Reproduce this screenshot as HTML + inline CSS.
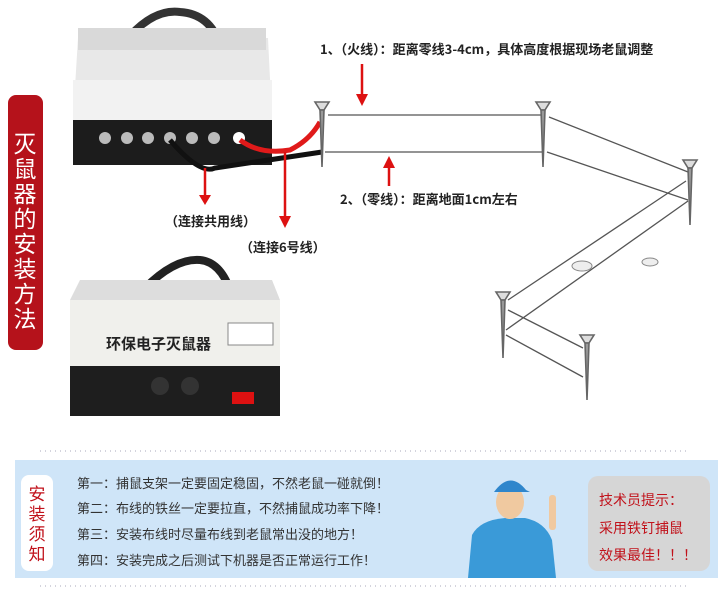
<!DOCTYPE html>
<html><head><meta charset="utf-8"><style>
body{margin:0;width:728px;height:598px;background:#fff;overflow:hidden;font-family:"Liberation Sans","Noto Sans CJK SC",sans-serif}
</style></head><body>
<svg width="728" height="598" xmlns="http://www.w3.org/2000/svg" style="position:absolute;left:0;top:0">
<rect x="8" y="95" width="35" height="255" rx="8" fill="#b5121b"/>
<text font-family="Noto Sans CJK SC,sans-serif" font-size="23" fill="#fff" text-anchor="middle">
<tspan x="25" y="152">灭</tspan><tspan x="25" y="177">鼠</tspan><tspan x="25" y="202">器</tspan><tspan x="25" y="227">的</tspan><tspan x="25" y="252">安</tspan><tspan x="25" y="277">装</tspan><tspan x="25" y="302">方</tspan><tspan x="25" y="327">法</tspan></text>
<!-- top device -->
<path d="M120 48 Q150 8 180 12 Q210 14 220 45" stroke="#333" stroke-width="8" fill="none"/>
<path d="M78 38 L268 38 L272 120 L73 120 Z" fill="#e8e8e8"/>
<rect x="78" y="28" width="188" height="22" fill="#d9d9d9"/>
<rect x="73" y="80" width="199" height="42" fill="#f2f2f2"/>
<rect x="73" y="120" width="199" height="45" fill="#1c1c1c"/>
<g fill="#bbb"><circle cx="105" cy="138" r="6"/><circle cx="127" cy="138" r="6"/><circle cx="148" cy="138" r="6"/><circle cx="170" cy="138" r="6"/><circle cx="192" cy="138" r="6"/><circle cx="214" cy="138" r="6"/><circle cx="239" cy="138" r="6" fill="#fff"/></g>
<path d="M240 140 Q260 155 290 150 Q310 140 320 122" stroke="#e01a1a" stroke-width="5" fill="none"/>
<path d="M170 140 Q200 175 215 168 Q270 160 322 152" stroke="#111" stroke-width="5" fill="none"/>
<path d="M205 168 L205 200" stroke="#d11" stroke-width="2.5"/><path d="M199 195 L205 205 L211 195Z" fill="#d11"/>
<path d="M285 152 L285 222" stroke="#d11" stroke-width="2.5"/><path d="M279 216 L285 228 L291 216Z" fill="#d11"/>
<text x="165" y="226" font-size="13" font-weight="bold" fill="#222" font-family="Noto Sans CJK SC,sans-serif">（连接共用线）</text>
<text x="240" y="252" font-size="13" font-weight="bold" fill="#222" font-family="Noto Sans CJK SC,sans-serif">（连接6号线）</text>
<!-- bottom device -->
<path d="M145 288 Q175 258 200 260 Q220 262 230 290" stroke="#222" stroke-width="8" fill="none"/>
<path d="M80 280 L272 280 L280 300 L70 300 Z" fill="#ddd"/>
<rect x="70" y="300" width="210" height="66" fill="#f0f0ec"/>
<text x="106" y="349" font-size="15" font-weight="bold" fill="#222" font-family="Noto Sans CJK SC,sans-serif">环保电子灭鼠器</text>
<rect x="228" y="323" width="45" height="22" fill="#fff" stroke="#888"/>
<rect x="70" y="366" width="210" height="50" fill="#1e1e1e"/>
<circle cx="160" cy="386" r="9" fill="#333"/><circle cx="190" cy="386" r="9" fill="#333"/>
<rect x="232" y="392" width="22" height="12" fill="#d11"/>
<!-- fence -->
<g stroke="#555" stroke-width="1.3" fill="none">
<line x1="328" y1="115" x2="543" y2="115"/><line x1="325" y1="152" x2="543" y2="152"/>
<line x1="549" y1="117" x2="688" y2="172"/><line x1="547" y1="152" x2="688" y2="200"/>
<line x1="686" y1="181" x2="508" y2="300"/><line x1="688" y1="201" x2="506" y2="330"/>
<line x1="508" y1="310" x2="583" y2="348"/><line x1="506" y1="335" x2="583" y2="377"/>
</g>
<g stroke="#666" stroke-width="1.6" fill="#ddd">
<path d="M315 102 L329 102 L324 110 L320 110Z"/><path d="M320 110 L324 110 L322 167Z" fill="#999"/>
<path d="M536 102 L550 102 L545 110 L541 110Z"/><path d="M541 110 L545 110 L543 167Z" fill="#999"/>
<path d="M683 160 L697 160 L692 168 L688 168Z"/><path d="M688 168 L692 168 L690 225Z" fill="#999"/>
<path d="M496 292 L510 292 L505 300 L501 300Z"/><path d="M501 300 L505 300 L503 358Z" fill="#999"/>
<path d="M580 335 L594 335 L589 343 L585 343Z"/><path d="M585 343 L589 343 L587 400Z" fill="#999"/>
</g>
<ellipse cx="582" cy="266" rx="10" ry="5" fill="#eee" stroke="#888"/>
<ellipse cx="650" cy="262" rx="8" ry="4" fill="#eee" stroke="#888"/>
<text x="320" y="54" font-size="13" font-weight="bold" fill="#222" font-family="Noto Sans CJK SC,sans-serif">1、（火线）：距离零线3-4cm，具体高度根据现场老鼠调整</text>
<text x="340" y="204" font-size="13" font-weight="bold" fill="#222" font-family="Noto Sans CJK SC,sans-serif">2、（零线）：距离地面1cm左右</text>
<path d="M362 64 L362 98" stroke="#d11" stroke-width="2.5"/><path d="M356 94 L362 106 L368 94Z" fill="#d11"/>
<path d="M389 186 L389 166" stroke="#d11" stroke-width="2.5"/><path d="M383 168 L389 156 L395 168Z" fill="#d11"/>
<!-- bottom section -->
<line x1="40" y1="451" x2="690" y2="451" stroke="#aab" stroke-dasharray="1 4"/>
<line x1="40" y1="586" x2="690" y2="586" stroke="#aab" stroke-dasharray="1 4"/>
<rect x="15" y="460" width="703" height="118" fill="#cfe5f8"/>
<rect x="21" y="475" width="32" height="96" rx="8" fill="#fff"/>
<text font-size="17" fill="#c1121b" font-family="Noto Sans CJK SC,sans-serif" text-anchor="middle"><tspan x="37" y="500">安</tspan><tspan x="37" y="520">装</tspan><tspan x="37" y="540">须</tspan><tspan x="37" y="560">知</tspan></text>
<g font-size="13" fill="#333" font-family="Noto Sans CJK SC,sans-serif">
<text x="77" y="488">第一：捕鼠支架一定要固定稳固，不然老鼠一碰就倒！</text>
<text x="77" y="513">第二：布线的铁丝一定要拉直，不然捕鼠成功率下降！</text>
<text x="77" y="539">第三：安装布线时尽量布线到老鼠常出没的地方！</text>
<text x="77" y="565">第四：安装完成之后测试下机器是否正常运行工作！</text>
</g>
<path d="M468 578 L472 535 Q480 520 505 518 L525 518 Q545 522 552 540 L556 578Z" fill="#3a9ad8"/>
<ellipse cx="510" cy="502" rx="14" ry="17" fill="#f0c9a0"/>
<path d="M494 492 Q510 470 526 490 L530 492 L494 492Z" fill="#2f86cc"/>
<rect x="549" y="495" width="7" height="35" rx="3" fill="#f0c9a0"/>
<rect x="588" y="476" width="122" height="95" rx="10" fill="#d6d6d6"/>
<g font-size="14" fill="#c1121b" font-family="Noto Sans CJK SC,sans-serif">
<text x="599" y="505">技术员提示：</text><text x="599" y="533">采用铁钉捕鼠</text><text x="599" y="560">效果最佳！！！</text>
</g>
</svg>
</body></html>
